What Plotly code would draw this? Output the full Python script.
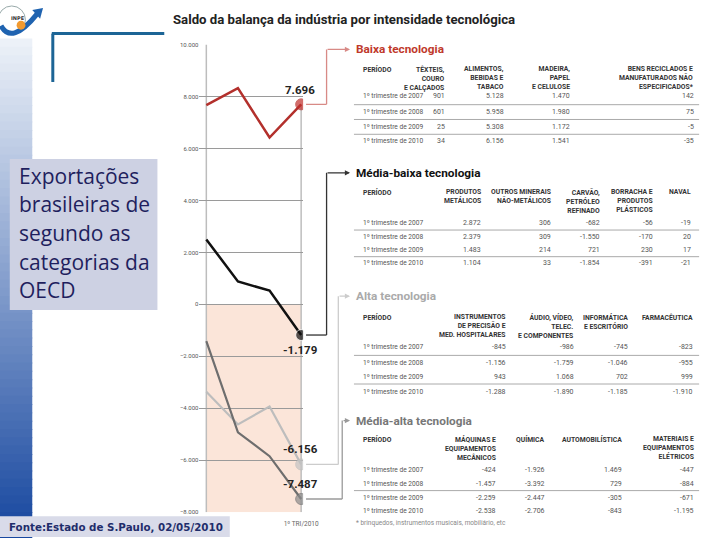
import plotly.graph_objects as go

periods = ["1º TRI/2007", "1º TRI/2008", "1º TRI/2009", "1º TRI/2010"]
baixa = [7670, 8320, 6420, 7696]
media_baixa = [2500, 880, 530, -1179]
alta = [-3360, -4620, -3930, -6156]
media_alta = [-1410, -4920, -5840, -7487]

y_ticks = [10000, 8000, 6000, 4000, 2000, 0, -2000, -4000, -6000, -8000]

row_labels = ["1º trimestre de 2007", "1º trimestre de 2008",
              "1º trimestre de 2009", "1º trimestre de 2010"]

baixa_heads = ["TÊXTEIS,<br>COURO<br>E CALÇADOS", "ALIMENTOS,<br>BEBIDAS E<br>TABACO",
               "MADEIRA,<br>PAPEL<br>E CELULOSE",
               "BENS RECICLADOS E<br>MANUFATURADOS NÃO<br>ESPECIFICADOS*"]
baixa_vals = [["901", "5.128", "1.470", "142"],
              ["601", "5.958", "1.980", "75"],
              ["25", "5.308", "1.172", "-5"],
              ["34", "6.156", "1.541", "-35"]]

mbaixa_heads = ["PRODUTOS<br>METÁLICOS", "OUTROS MINERAIS<br>NÃO-METÁLICOS",
                "CARVÃO,<br>PETRÓLEO<br>REFINADO", "BORRACHA E<br>PRODUTOS<br>PLÁSTICOS", "NAVAL"]
mbaixa_vals = [["2.872", "306", "-682", "-56", "-19"],
               ["2.379", "309", "-1.550", "-170", "20"],
               ["1.483", "214", "721", "230", "17"],
               ["1.104", "33", "-1.854", "-391", "-21"]]

alta_heads = ["INSTRUMENTOS<br>DE PRECISÃO E<br>MED. HOSPITALARES",
              "ÁUDIO, VÍDEO,<br>TELEC.<br>E COMPONENTES",
              "INFORMÁTICA<br>E ESCRITÓRIO", "FARMACÊUTICA"]
alta_vals = [["-845", "-986", "-745", "-823"],
             ["-1.156", "-1.759", "-1.046", "-955"],
             ["943", "1.068", "702", "999"],
             ["-1.288", "-1.890", "-1.185", "-1.910"]]

malta_heads = ["MÁQUINAS E<br>EQUIPAMENTOS<br>MECÂNICOS", "QUÍMICA", "AUTOMOBILÍSTICA",
               "MATERIAIS E<br>EQUIPAMENTOS<br>ELÉTRICOS"]
malta_vals = [["-424", "-1.926", "1.469", "-447"],
              ["-1.457", "-3.392", "729", "-884"],
              ["-2.259", "-2.447", "-305", "-671"],
              ["-2.538", "-2.706", "-843", "-1.195"]]

W, H = 720, 540


def px(x):
    return x / W


def py(y):
    return 1 - y / H


def data_y(pix):
    # pixel row -> value on the chart's y axis
    return 10000 - (pix - 41) * 18000 / 474


def fmt(v):
    return f"{v:,}".replace(",", ".")


fig = go.Figure()

series = [
    (baixa, "#b3302c", "#c0302c", 2.5),
    (media_baixa, "#111111", "#111111", 2.5),
    (alta, "#bdbdbd", "#c4c4c4", 2.2),
    (media_alta, "#6e6e6e", "#8a8a8a", 2.2),
]
for vals, color, dot, width in series:
    fig.add_trace(go.Scatter(
        x=periods, y=vals, mode="lines+markers",
        line=dict(color=color, width=width),
        marker=dict(size=[0, 0, 0, 11], color=dot),
        showlegend=False, hoverinfo="skip",
    ))

shapes = []

# left gradient strip
n = 60
for i in range(n):
    t = i / (n - 1)
    r = int(236 + (24 - 236) * t)
    g = int(241 + (72 - 241) * t)
    b = int(248 + (160 - 248) * t)
    y0 = 35 + i * (505 / n)
    shapes.append(dict(type="rect", xref="paper", yref="paper",
                       x0=px(0), x1=px(33), y0=py(y0), y1=py(y0 + 505 / n + 1),
                       line=dict(width=0), fillcolor=f"rgb({r},{g},{b})", layer="below"))

# text box and footer box
shapes.append(dict(type="rect", xref="paper", yref="paper", x0=px(10), x1=px(161),
                   y0=py(310), y1=py(157), line=dict(width=0), fillcolor="#cdd1e3"))
shapes.append(dict(type="rect", xref="paper", yref="paper", x0=px(0), x1=px(235),
                   y0=py(540), y1=py(519), line=dict(width=0), fillcolor="#d9dbe9"))

# blue corner bracket
shapes.append(dict(type="line", xref="paper", yref="paper", x0=px(53), x1=px(168),
                   y0=py(30), y1=py(30), line=dict(color="#1d6596", width=3)))
shapes.append(dict(type="line", xref="paper", yref="paper", x0=px(54), x1=px(54),
                   y0=py(30), y1=py(79), line=dict(color="#1d6596", width=3)))

# logo
shapes.append(dict(type="circle", xref="paper", yref="paper", x0=px(-2), x1=px(26),
                   y0=py(30), y1=py(2), line=dict(color="#9aa", width=1)))
shapes.append(dict(type="path", xref="paper", yref="paper",
                   path=f"M {px(1)},{py(22)} Q {px(12)},{py(42)} {px(38)},{py(10)}",
                   line=dict(color="#1f63b0", width=5)))
shapes.append(dict(type="path", xref="paper", yref="paper",
                   path=f"M {px(33)},{py(6)} L {px(44)},{py(4)} L {px(41)},{py(15)} Z",
                   line=dict(width=0), fillcolor="#1f63b0"))
shapes.append(dict(type="circle", xref="paper", yref="paper", x0=px(17), x1=px(26),
                   y0=py(26), y1=py(17), line=dict(width=0), fillcolor="#f29a30"))

# pink negative zone and vertical guides
shapes.append(dict(type="rect", xref="x", yref="y", x0=0, x1=len(periods) - 1,
                   y0=-8000, y1=0, line=dict(width=0), fillcolor="#fbe5d9", layer="below"))
shapes.append(dict(type="line", xref="x", yref="y", x0=0, x1=0, y0=-8000, y1=10000,
                   line=dict(color="#bdbdbd", width=1.5), layer="below"))
shapes.append(dict(type="line", xref="x", yref="y", x0=len(periods) - 1, x1=len(periods) - 1,
                   y0=-8000, y1=baixa[-1], line=dict(color="#bdbdbd", width=1.5), layer="below"))

annotations = []

# connectors from end points to the tables
connectors = [
    (baixa[-1], 334, 46, "#d88a86", "Baixa tecnologia", "#c0392b"),
    (media_baixa[-1], 334, 171, "#333333", "Média-baixa tecnologia", "#111111"),
    (alta[-1], 346, 296, "#cccccc", "Alta tecnologia", "#aaaaaa"),
    (media_alta[-1], 350, 422, "#9a9a9a", "Média-alta tecnologia", "#777777"),
]
for val, xc, ty, lc, title, tc in connectors:
    shapes.append(dict(type="line", xref="paper", yref="y", x0=px(313), x1=px(xc),
                       y0=val, y1=val, line=dict(color=lc, width=1.3)))
    shapes.append(dict(type="line", xref="paper", yref="y", x0=px(xc), x1=px(xc),
                       y0=val, y1=data_y(ty), line=dict(color=lc, width=1.3)))
    annotations.append(dict(xref="paper", yref="paper", x=px(358), y=py(ty), text="",
                            showarrow=True, ax=-(358 - xc), ay=0, arrowhead=2,
                            arrowsize=0.8, arrowwidth=1.3, arrowcolor=lc))
    annotations.append(dict(xref="paper", yref="paper", x=px(362), y=py(ty),
                            xanchor="left", yanchor="middle", showarrow=False,
                            text=f"<b>{title}</b>",
                            font=dict(family="Roboto", size=11.8, color=tc)))

# end-point value labels
for val, shift in [(baixa[-1], 14), (media_baixa[-1], -15), (alta[-1], 15), (media_alta[-1], 15)]:
    annotations.append(dict(x=periods[-1], y=val, xref="x", yref="y", text=f"<b>{fmt(val)}</b>",
                            showarrow=False, yshift=shift, xshift=-1,
                            font=dict(family="Roboto", size=11.5, color="#222")))

# tables
tables = [
    (baixa_heads, baixa_vals, [457, 518, 585, 712], 60, [93, 109, 125, 139], [102, 117, 132]),
    (mbaixa_heads, mbaixa_vals, [494, 566, 616, 670, 709], 184, [222, 236, 249, 262], [229, 256]),
    (alta_heads, alta_vals, [520, 589, 644, 711], 311, [347, 364, 378, 393], [356, 385]),
    (malta_heads, malta_vals, [509, 559, 638, 712], 435, [472, 486, 500, 514], [493]),
]
for heads, vals, cols, hy, rys, divs in tables:
    annotations.append(dict(xref="paper", yref="paper", x=px(369), y=py(hy), text="<b>PERÍODO</b>",
                            xanchor="left", yanchor="top", showarrow=False,
                            font=dict(family="Roboto", size=6.8, color="#333")))
    for head, cx in zip(heads, cols):
        annotations.append(dict(xref="paper", yref="paper", x=px(cx), y=py(hy), text=f"<b>{head}</b>",
                                xanchor="right", yanchor="top", align="right", showarrow=False,
                                font=dict(family="Roboto", size=6.8, color="#333")))
    for label, row, ry in zip(row_labels, vals, rys):
        annotations.append(dict(xref="paper", yref="paper", x=px(369), y=py(ry), text=label,
                                xanchor="left", yanchor="middle", showarrow=False,
                                font=dict(family="Roboto", size=6.6, color="#555")))
        for v, cx in zip(row, cols):
            annotations.append(dict(xref="paper", yref="paper", x=px(cx), y=py(ry), text=v,
                                    xanchor="right", yanchor="middle", showarrow=False,
                                    font=dict(family="Roboto", size=7, color="#555")))
    for dy in divs:
        shapes.append(dict(type="line", xref="paper", yref="paper", x0=px(362), x1=px(715),
                           y0=py(dy), y1=py(dy), line=dict(color="#aaaaaa", width=1)))

# footnote
annotations.append(dict(xref="paper", yref="paper", x=px(362), y=py(526),
                        text="* brinquedos, instrumentos musicais, mobiliário, etc",
                        xanchor="left", yanchor="middle", showarrow=False,
                        font=dict(family="Roboto", size=6.5, color="#888")))

# chart title
annotations.append(dict(xref="paper", yref="paper", x=px(175), y=py(16),
                        text="<b>Saldo da balança da indústria por intensidade tecnológica</b>",
                        xanchor="left", yanchor="middle", showarrow=False,
                        font=dict(family="Roboto", size=13.2, color="#222")))

# slide text
for i, line in enumerate(["Exportações", "brasileiras de", "segundo as", "categorias da", "OECD"]):
    annotations.append(dict(xref="paper", yref="paper", x=px(17), y=py(174 + 29 * i), text=line,
                            xanchor="left", yanchor="middle", showarrow=False,
                            font=dict(family="Open Sans", size=21, color="#1f1f5e")))

annotations.append(dict(xref="paper", yref="paper", x=px(7), y=py(530),
                        text="<b>Fonte:Estado de S.Paulo, 02/05/2010</b>",
                        xanchor="left", yanchor="middle", showarrow=False,
                        font=dict(family="DejaVu Sans", size=10.3, color="#1f2d6b")))

annotations.append(dict(xref="paper", yref="paper", x=px(9), y=py(14), text="<b>INPE</b>",
                        xanchor="left", yanchor="middle", showarrow=False,
                        font=dict(family="DejaVu Sans", size=5, color="#333")))

fig.update_layout(
    width=W, height=H,
    margin=dict(l=0, r=0, t=0, b=0),
    paper_bgcolor="white", plot_bgcolor="rgba(0,0,0,0)",
    separators=",.",
    shapes=shapes, annotations=annotations,
    xaxis=dict(domain=[px(204), px(310)], range=[-0.217, 3.062], type="category",
               showgrid=False, zeroline=False, showline=False,
               tickvals=[periods[-1]], ticks="", ticklabelstandoff=6,
               tickfont=dict(family="Roboto", size=6.5, color="#666")),
    yaxis=dict(domain=[py(515), py(41)], range=[-8000, 10000], tickvals=y_ticks,
               tickformat=",d", showgrid=True, gridcolor="#9a9a9a", gridwidth=1,
               zeroline=True, zerolinecolor="#9a9a9a", zerolinewidth=1, showline=False,
               ticks="", tickfont=dict(family="Roboto", size=6, color="#555")),
)

fig.write_html("out.html", config={"displayModeBar": False},
               post_script="document.body.style.margin = '0';")
